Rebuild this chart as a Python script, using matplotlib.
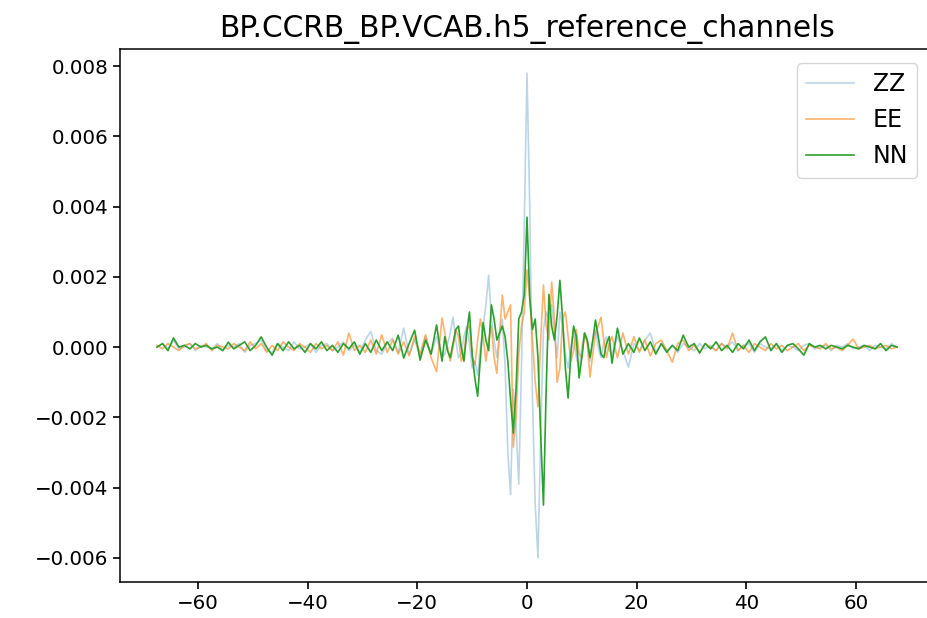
import numpy as np
import matplotlib
matplotlib.use("Agg")
import matplotlib.pyplot as plt

# lag axis samples (seconds)
lag_left = np.arange(-67.5, -15.0, 1.0)
lag_center = np.arange(-15.0, 15.01, 0.5)
lag_right = np.arange(15.5, 67.51, 1.0)

# values in units of 1e-4
zz_left = [0, 1, -0.5, 2, -0.5, 0, 1, -1, 0.5, 0, -0.5, 1, -1, 0.5, 0, 1, -1.5, 0.5, 1, 2,
           -1, -1.5, 1, 0, -1, 1.5, -0.5, 0, 1, -1.5, 0.5, 1, -1, 0, 1.5, -1, 0.5, -1.5, 2, 4.5,
           -1, -2, 1, 2.5, -1.5, 5.4, -2, 2, -2.5, 3, -2, 3, -3]
zz_center = [-2, 1, 4, 8.5, 2, -3, -2, 3, 6, 1, -6, -4, -8, 0, 6, 12, 20.5, 8, 2, -3,
             4, 8, -5, -30, -42, -12, -22, -39, -5, 35, 78, 40, -15, -45, -60, -25, 5, 10, 8, 12,
             4, -3, 10, 6, -2, -6, 0, 5, -3, -6, 0, 4, 2, -4, 2, 5, 0, -3, 1, 3, -1]
zz_right = [-2, 3, -1, -5.7, 1, -1, 2, 4, -1.5, 1, -1, 0.5, -1.5, 1, 0, -1, 1, -0.5, 0.5, -1,
            1, 0, 1.5, -1, 0.5, 1, -1.5, 1, 0, -0.5, 1, -1, 0.5, 0, -1, 0.5, 1, -0.5, 0, 0.5,
            -1, 0.5, 0, 1, -0.5, 0, 0.5, -1, 0.5, 0, -0.5, 1, 0]

ee_left = [0.5, -0.5, 1, 0, -1, 0.5, 1, -0.5, 0, 1, -1, 0.5, 0, -0.5, 1, 0, -1, 1.5, -0.5, 1,
           -1.5, 0.5, -1, 1.5, 0, -1, 1, 0, -1.5, 1, -0.5, 0.5, -1, 1.5, -2.3, 4, -1, 0.5, -1.5, 2,
           -2, 3.5, -1.5, 2, -2, 1.5, -2.5, 3, -2, 3.5, -3, -7, 8.3]
ee_center = [4, 0, -4, 0, 5, 3, -4, -2, 5, 6, -3, -5, 2, 8, 3, -4, 2, 6, -3, -7.5,
             4, 14.8, 8, 10, 12, -28.5, -20, -2, 6, 10, 22, 14, 2, -10, -17, 2, 17.7, 6, 2, 18.5,
             8, -10, -6, 8, 10, 3, -4, -1, 5, -2, -3, 4, 1, -8.5, -2, 4, 6, 8.5, 2, -3, 1]
ee_right = [3, -3, 4, -2, 3, -1.5, 2, -2.5, 1, 2, -1, -4.3, 1, 2, -1, 0.5, -1.5, 1, 0, -1,
            1, -0.5, 4, -1, 0.5, -1.5, 1, 0, -1, 1, -0.5, 0.5, -1, 0, 1, -1, 0.5, 0, -0.5, 1,
            -0.5, 0, -1, 0.5, 2.3, -0.5, 0, 0.5, -0.5, 0, 0.5, -0.5, 0]

nn_left = [0, 1, -1, 2.6, 0, 0.5, -0.5, 1, 0, 0.5, -0.5, 0, -1, 1.4, -0.5, 0.5, 1.5, -1, 0.5, 2.9,
           0, -2.3, 1, -1, 1.5, -0.5, 0.5, -1.5, 1, -0.5, 1.5, -1, 0.5, -1.5, 1, -0.5, 1.5, -2, 1, -1.5,
           2, -1, 1.5, -1, 3.4, -3.1, 1, 4.8, -3.7, 2, -2, 6.3, -4]
nn_center = [3, -1, -3, 1, 5, 6, 0, -4, 4, 10, -2, -9, -14, -3, 7, 2, -1, 12, 8, 2,
             4, 6, 3, -4, -15, -24.5, -12, 8, 10, 15, 37, 14, 5, 8, -3, -25, -45, -12, 15, 6,
             2, 9, 19, 8, -6, -14.5, -2, 6, 3, -8.8, -3, 4, 2, -3, 2, 7.7, 3, -2, -3, 1, 3]
nn_right = [-4.6, 5.4, -2, 1, -1.5, 2.6, -1, 1.5, -2, 1, -1.5, 0.5, -1, 3.4, 0, 1, -1.7, 1, -0.5, 1.5,
            -1, 0.5, -1.5, 1, -0.5, 2, -1, 1.5, 2.9, -1, 1, -1.5, 0.5, 1, -0.5, -2.3, 1, 0, 0.5, -0.5,
            0.5, 0, -0.5, 0.5, 0, -0.5, 0.5, 0, -0.5, 1, -1, 0.5, 0]

labels = ["ZZ", "EE", "NN"]
title = "BP.CCRB_BP.VCAB.h5_reference_channels"

lag = np.concatenate([lag_left, lag_center, lag_right])
unit = 1e-4
zz = np.concatenate([zz_left, zz_center, zz_right]) * unit
ee = np.concatenate([ee_left, ee_center, ee_right]) * unit
nn = np.concatenate([nn_left, nn_center, nn_right]) * unit

W, H = 928, 618
fig = plt.figure(figsize=(W / 100, H / 100), dpi=100)
ax = fig.add_axes([120 / W, 1 - 582 / H, (934 - 120) / W, (582 - 49) / H])

ax.plot(lag, zz, color="tab:blue", alpha=0.3, lw=1.2, label=labels[0])
ax.plot(lag, ee, color="tab:orange", alpha=0.6, lw=1.2, label=labels[1])
ax.plot(lag, nn, color="tab:green", alpha=1.0, lw=1.2, label=labels[2])

ax.set_xticks([-60, -40, -20, 0, 20, 40, 60])
ax.set_yticks([-0.006, -0.004, -0.002, 0.0, 0.002, 0.004, 0.006, 0.008])
ax.tick_params(labelsize=14.3, width=1.2, length=5)
for s in ax.spines.values():
    s.set_linewidth(1.1)
ax.set_title(title, fontsize=21.3, pad=9)
ax.legend(fontsize=17, loc="upper left", bbox_to_anchor=(797 / W, 1 - 63 / H),
          bbox_transform=fig.transFigure, borderaxespad=0)

fig.savefig("out.png", dpi=100)
